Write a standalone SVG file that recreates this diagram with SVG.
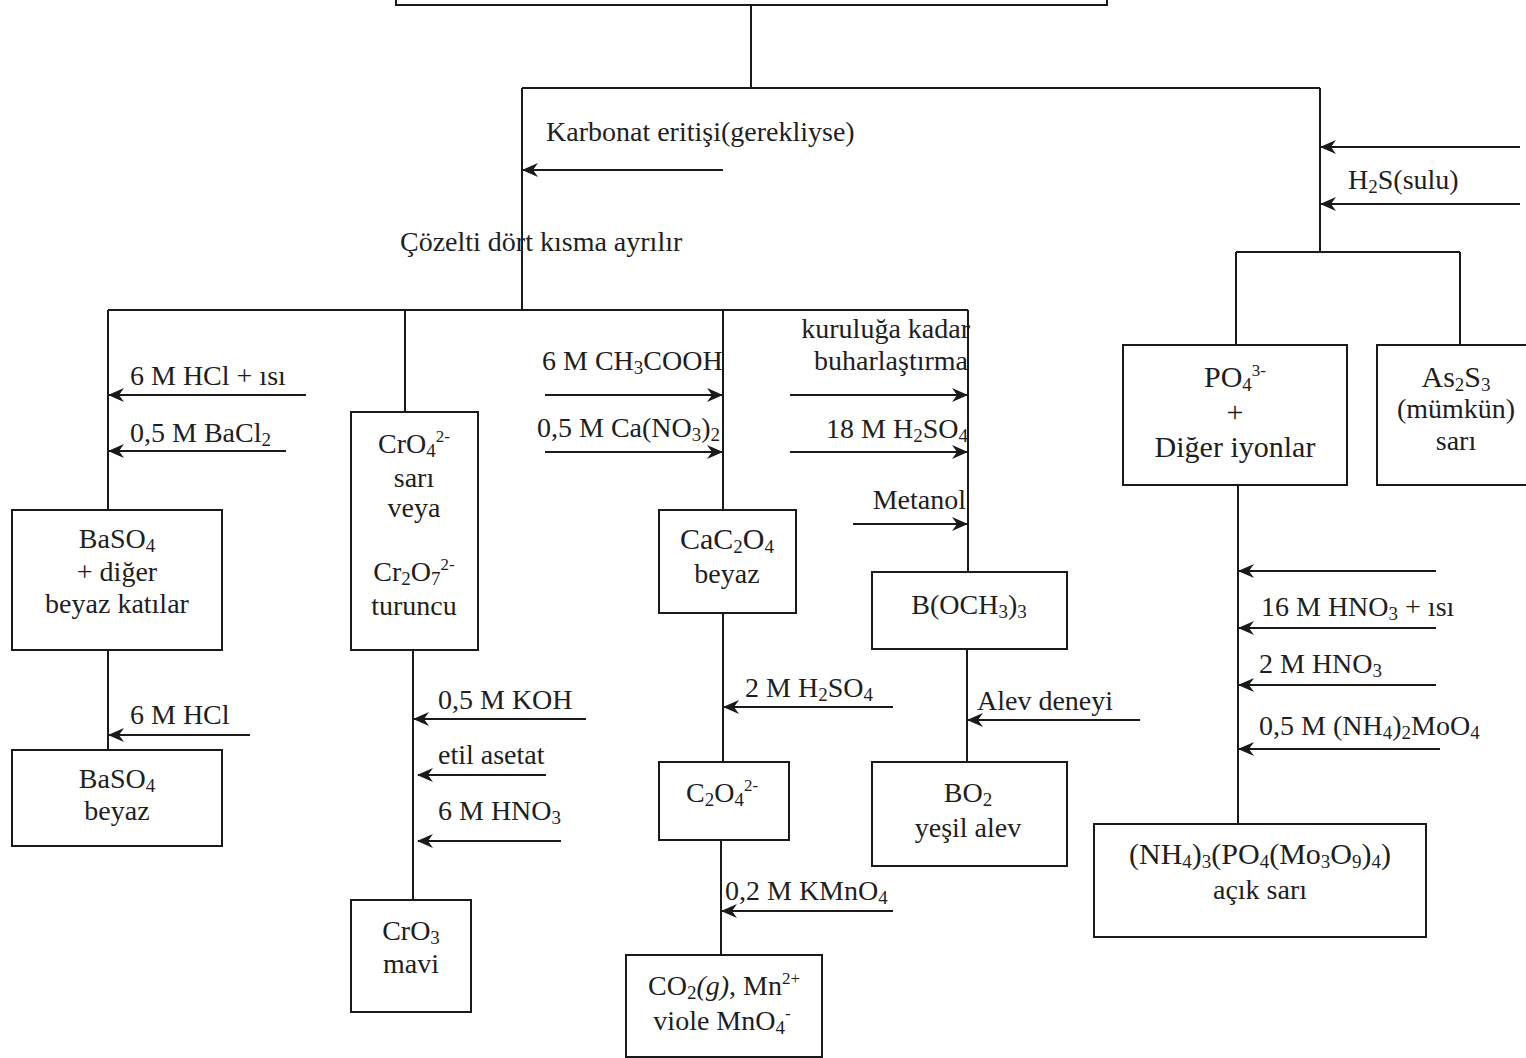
<svg xmlns="http://www.w3.org/2000/svg" width="1526" height="1058" viewBox="0 0 1526 1058">
<style>
text{font-family:"Liberation Serif","Times New Roman",serif;font-size:28px;fill:#1e1e1e}
.m{text-anchor:middle}
.e{text-anchor:end}
.b{font-size:30px}
.s{font-size:19px;baseline-shift:-4px}
.p{font-size:17px;baseline-shift:11px}
.box{fill:#fff;stroke:#1a1a1a;stroke-width:2}
.ln{stroke:#1a1a1a;stroke-width:2;fill:none}
.ar{stroke:#1a1a1a;stroke-width:2;fill:none;marker-end:url(#ah)}
</style>
<defs>
<marker id="ah" viewBox="0 0 16 14" refX="15" refY="7" markerWidth="16" markerHeight="14" markerUnits="userSpaceOnUse" orient="auto">
<path d="M0,0 L16,7 L0,14 L5,7 z" fill="#1a1a1a"/>
</marker>
</defs>
<rect width="1526" height="1058" fill="#fff"/>

<g id="connectors">
<path class="ln" d="M751,5 V88 M522,88 H1320 M522,88 V310 M1320,88 V252"/>
<path class="ln" d="M108,310 H968 M108,310 V510 M405,310 V412 M723,310 V510 M968,310 V572"/>
<path class="ln" d="M108,650 V750 M413,650 V900 M723,613 V762 M721,840 V955 M967,649 V762"/>
<path class="ln" d="M1236,252 H1460 M1236,252 V345 M1460,252 V345 M1238,485 V824"/>
<line class="ar" x1="723" y1="170" x2="523" y2="170"/>
<line class="ar" x1="306" y1="395" x2="109" y2="395"/>
<line class="ar" x1="286" y1="451" x2="109" y2="451"/>
<line class="ar" x1="250" y1="735" x2="109" y2="735"/>
<line class="ar" x1="586" y1="719" x2="414" y2="719"/>
<line class="ar" x1="546" y1="775" x2="418" y2="775"/>
<line class="ar" x1="561" y1="841" x2="418" y2="841"/>
<line class="ar" x1="545" y1="395" x2="722" y2="395"/>
<line class="ar" x1="545" y1="452" x2="722" y2="452"/>
<line class="ar" x1="893" y1="707" x2="724" y2="707"/>
<line class="ar" x1="893" y1="911" x2="722" y2="911"/>
<line class="ar" x1="790" y1="395" x2="967" y2="395"/>
<line class="ar" x1="790" y1="452" x2="967" y2="452"/>
<line class="ar" x1="853" y1="524" x2="967" y2="524"/>
<line class="ar" x1="1140" y1="720" x2="968" y2="720"/>
<line class="ar" x1="1520" y1="147" x2="1321" y2="147"/>
<line class="ar" x1="1520" y1="204" x2="1321" y2="204"/>
<line class="ar" x1="1436" y1="571" x2="1239" y2="571"/>
<line class="ar" x1="1436" y1="628" x2="1239" y2="628"/>
<line class="ar" x1="1436" y1="685" x2="1239" y2="685"/>
<line class="ar" x1="1440" y1="749" x2="1239" y2="749"/>
</g>

<g id="labels">
<text x="546" y="141">Karbonat eritişi(gerekliyse)</text>
<text x="400" y="251">Çözelti dört kısma ayrılır</text>
<text x="130" y="385">6 M HCl + ısı</text>
<text x="130" y="442">0,5 M BaCl<tspan class="s">2</tspan></text>
<text x="130" y="724">6 M HCl</text>
<text x="438" y="709">0,5 M KOH</text>
<text x="438" y="764">etil asetat</text>
<text x="438" y="820">6 M HNO<tspan class="s">3</tspan></text>
<text x="542" y="370">6 M CH<tspan class="s">3</tspan>COOH</text>
<text x="537" y="437">0,5 M Ca(NO<tspan class="s">3</tspan>)<tspan class="s">2</tspan></text>
<text x="745" y="697">2 M H<tspan class="s">2</tspan>SO<tspan class="s">4</tspan></text>
<text x="725" y="900">0,2 M KMnO<tspan class="s">4</tspan></text>
<text class="e" x="970" y="338">kuruluğa kadar</text>
<text class="e" x="968" y="370">buharlaştırma</text>
<text class="e" x="968" y="438">18 M H<tspan class="s">2</tspan>SO<tspan class="s">4</tspan></text>
<text class="e" x="966" y="509">Metanol</text>
<text x="977" y="710">Alev deneyi</text>
<text x="1348" y="189">H<tspan class="s">2</tspan>S(sulu)</text>
<text x="1261" y="616">16 M HNO<tspan class="s">3</tspan> + ısı</text>
<text x="1259" y="673">2 M HNO<tspan class="s">3</tspan></text>
<text x="1259" y="735">0,5 M (NH<tspan class="s">4</tspan>)<tspan class="s">2</tspan>MoO<tspan class="s">4</tspan></text>
</g>

<g id="n-top"><rect class="box" x="396" y="-10" width="711" height="15"/></g>

<g id="n-baso4a">
<rect class="box" x="12" y="510" width="210" height="140"/>
<text class="m" x="117" y="548">BaSO<tspan class="s">4</tspan></text>
<text class="m" x="117" y="581">+ diğer</text>
<text class="m" x="117" y="613">beyaz katılar</text>
</g>
<g id="n-baso4b">
<rect class="box" x="12" y="750" width="210" height="96"/>
<text class="m" x="117" y="788">BaSO<tspan class="s">4</tspan></text>
<text class="m" x="117" y="820">beyaz</text>
</g>

<g id="n-cro4">
<rect class="box" x="351" y="412" width="127" height="238"/>
<text class="m" x="414" y="453">CrO<tspan class="s">4</tspan><tspan class="p">2-</tspan></text>
<text class="m" x="414" y="487">sarı</text>
<text class="m" x="414" y="517">veya</text>
<text class="m" x="414" y="581">Cr<tspan class="s">2</tspan>O<tspan class="s">7</tspan><tspan class="p">2-</tspan></text>
<text class="m" x="414" y="615">turuncu</text>
</g>
<g id="n-cro3">
<rect class="box" x="351" y="900" width="120" height="112"/>
<text class="m" x="411" y="940">CrO<tspan class="s">3</tspan></text>
<text class="m" x="411" y="973">mavi</text>
</g>

<g id="n-cac2o4">
<rect class="box" x="659" y="510" width="137" height="103"/>
<text class="m b" x="727" y="549">CaC<tspan class="s">2</tspan>O<tspan class="s">4</tspan></text>
<text class="m" x="727" y="583">beyaz</text>
</g>
<g id="n-c2o4">
<rect class="box" x="659" y="762" width="130" height="78"/>
<text class="m" x="722" y="802">C<tspan class="s">2</tspan>O<tspan class="s">4</tspan><tspan class="p">2-</tspan></text>
</g>
<g id="n-co2">
<rect class="box" x="626" y="955" width="196" height="102"/>
<text class="m" x="724" y="995">CO<tspan class="s">2</tspan><tspan font-style="italic">(g)</tspan>, Mn<tspan class="p">2+</tspan></text>
<text class="m" x="722" y="1030">viole MnO<tspan class="s">4</tspan><tspan class="p">-</tspan></text>
</g>

<g id="n-boch3">
<rect class="box" x="872" y="572" width="195" height="77"/>
<text class="m" x="969" y="614">B(OCH<tspan class="s">3</tspan>)<tspan class="s">3</tspan></text>
</g>
<g id="n-bo2">
<rect class="box" x="872" y="762" width="195" height="104"/>
<text class="m" x="968" y="802">BO<tspan class="s">2</tspan></text>
<text class="m" x="968" y="837">yeşil alev</text>
</g>

<g id="n-po4">
<rect class="box" x="1123" y="345" width="224" height="140"/>
<text class="m b" x="1235" y="387">PO<tspan class="s">4</tspan><tspan class="p">3-</tspan></text>
<text class="m b" x="1235" y="422">+</text>
<text class="m b" x="1235" y="457">Diğer iyonlar</text>
</g>
<g id="n-as2s3">
<rect class="box" x="1377" y="345" width="160" height="140"/>
<text class="m b" x="1456" y="387">As<tspan class="s">2</tspan>S<tspan class="s">3</tspan></text>
<text class="m" x="1456" y="418">(mümkün)</text>
<text class="m" x="1456" y="450">sarı</text>
</g>
<g id="n-nh4">
<rect class="box" x="1094" y="824" width="332" height="113"/>
<text class="m b" x="1260" y="864">(NH<tspan class="s">4</tspan>)<tspan class="s">3</tspan>(PO<tspan class="s">4</tspan>(Mo<tspan class="s">3</tspan>O<tspan class="s">9</tspan>)<tspan class="s">4</tspan>)</text>
<text class="m" x="1260" y="899">açık sarı</text>
</g>
</svg>
